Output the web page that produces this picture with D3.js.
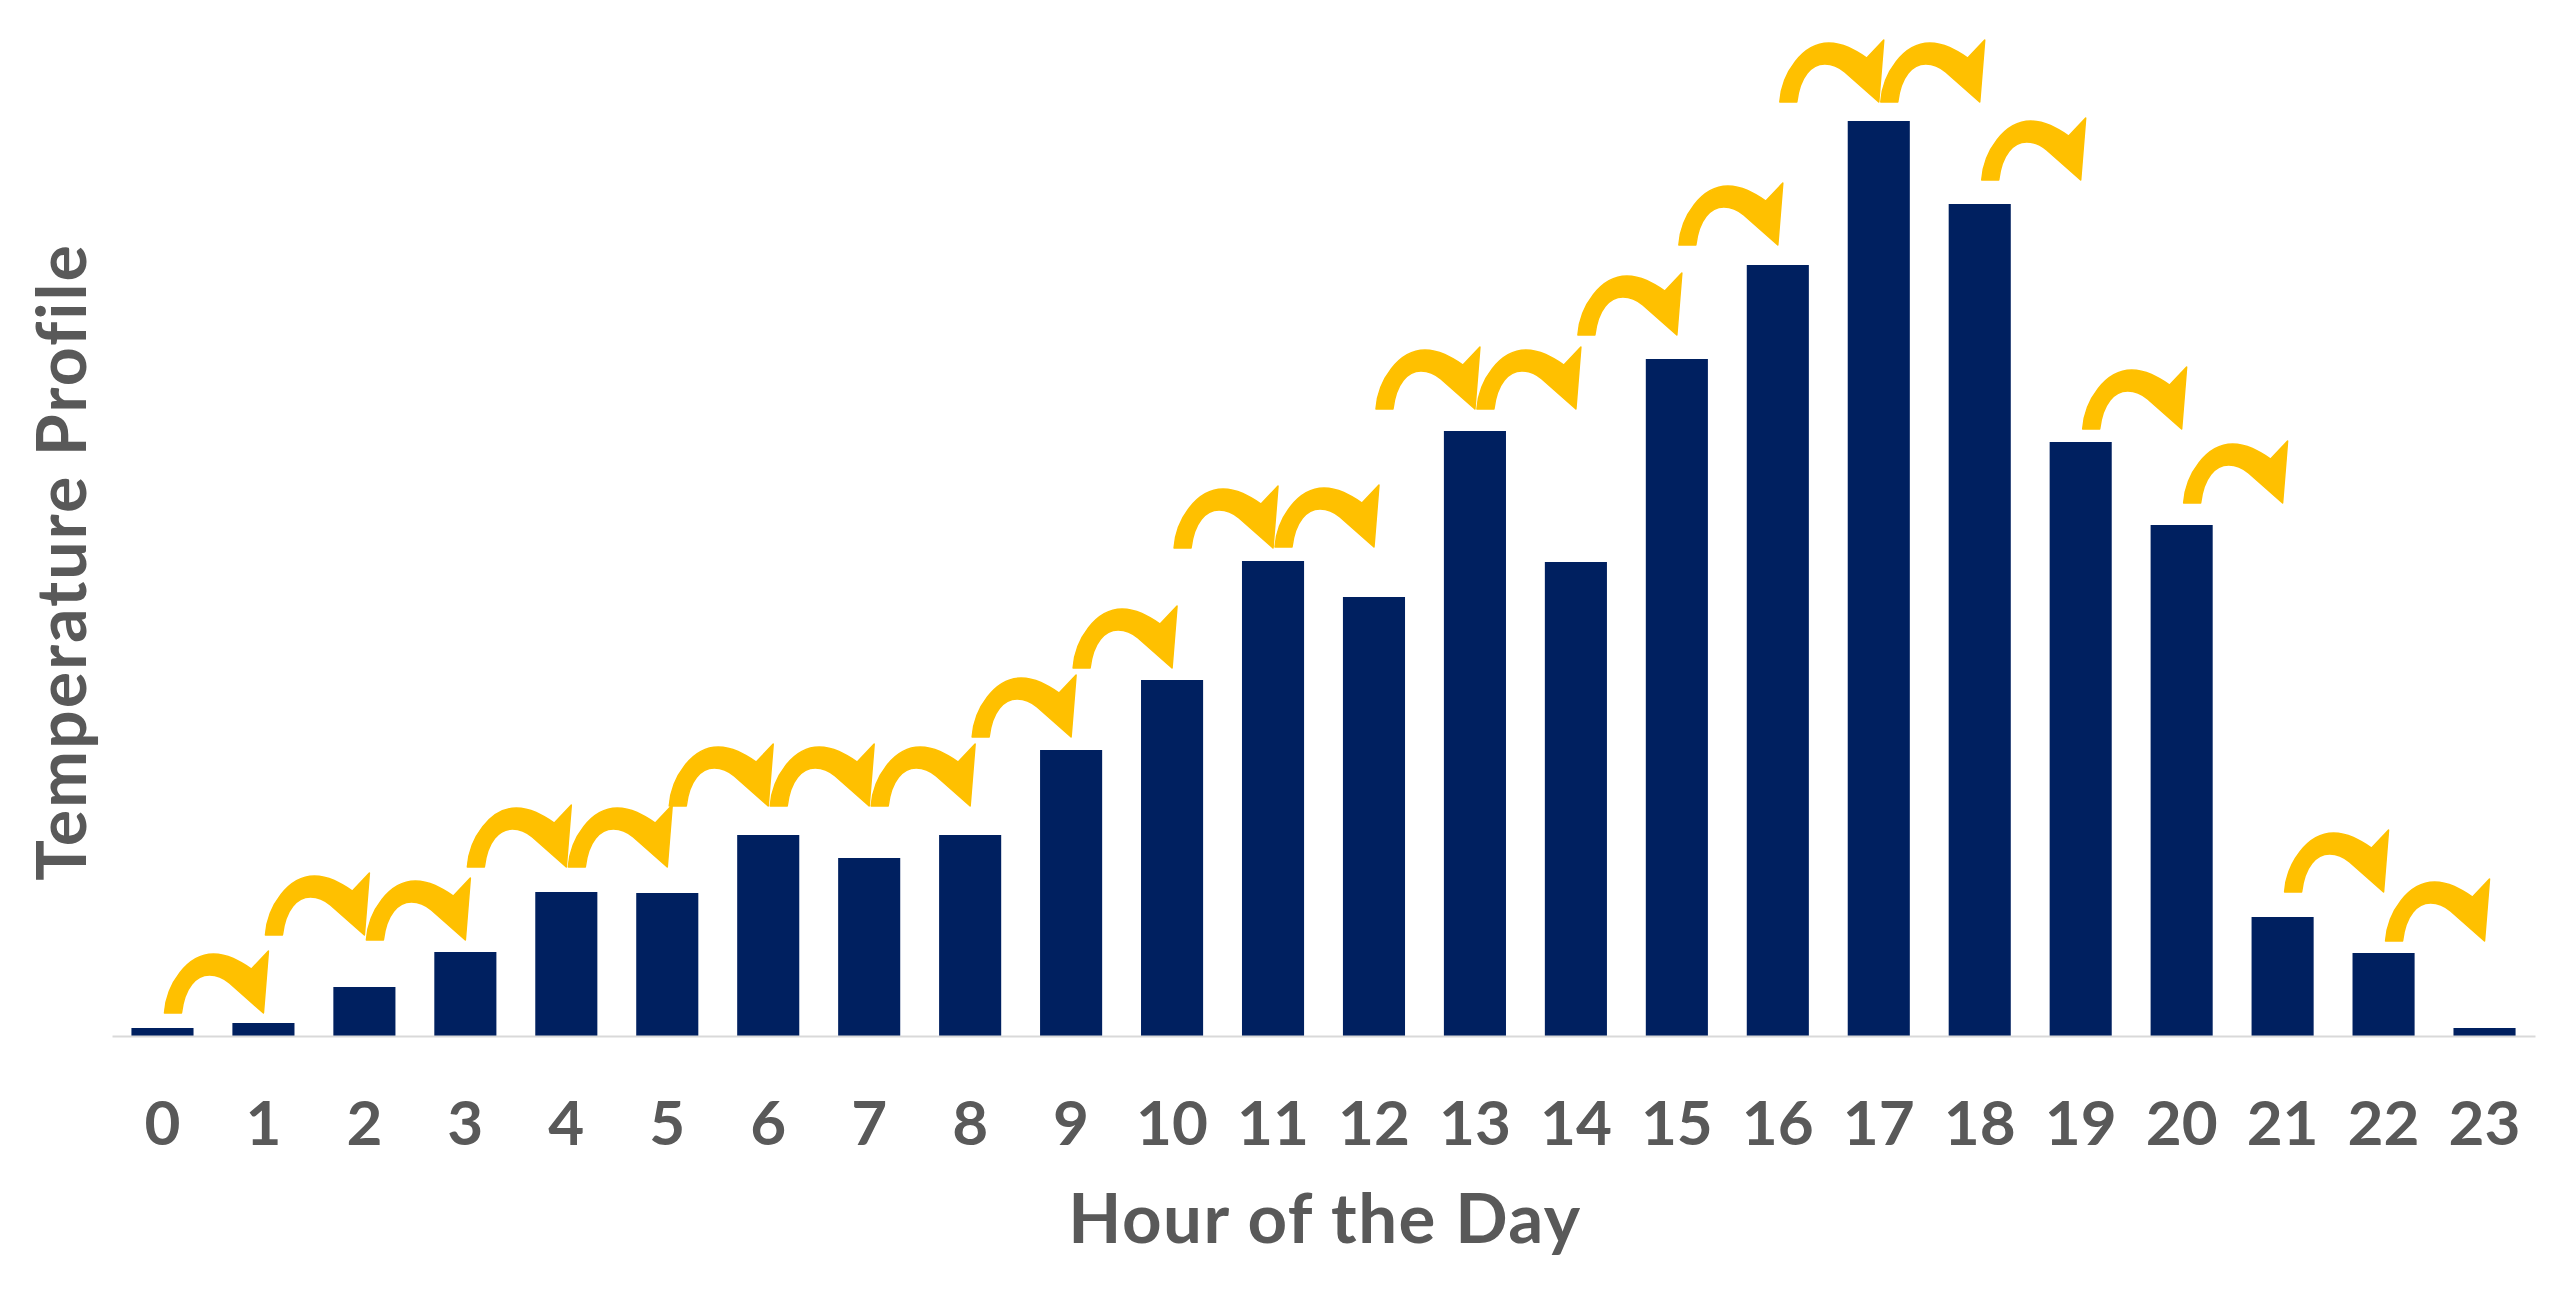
<!DOCTYPE html>
<html>
<head>
<meta charset="utf-8">
<script src="https://cdn.jsdelivr.net/npm/d3@7"></script>
<style>
  html, body { margin: 0; padding: 0; background: #ffffff; }
  svg { display: block; }
</style>
</head>
<body>
<script>
// ---- Data ----
const hours = ["0","1","2","3","4","5","6","7","8","9","10","11","12","13","14","15","16","17","18","19","20","21","22","23"];
const temperatureProfile = [0.8, 1.3, 4.9, 8.4, 14.4, 14.3, 20.1, 17.8, 20.1, 28.6, 35.6, 47.5, 43.9, 60.5, 47.4, 67.7, 77.1, 91.5, 83.2, 59.4, 51.1, 11.9, 8.3, 0.8];
// level (in the same units) at which each transition arrow k (hour k-1 -> hour k) ends
const arrowLevels = [2.3, 10.1, 9.6, 16.9, 16.9, 23.0, 23.0, 23.0, 29.9, 36.8, 48.8, 48.9, 62.7, 62.7, 70.1, 79.1, 93.4, 93.4, 85.6, 60.7, 53.3, 14.4, 9.5];
const xTitle = "Hour of the Day";
const yTitle = "Temperature Profile";

// ---- Layout ----
const W = 2565, H = 1290;
const barColor = "#002060", arrowColor = "#FFC000", textColor = "#595959", axisColor = "#D9D9D9";
const FONT = "Lato, 'Noto Sans', sans-serif";

const svg = d3.select("body").append("svg").attr("width", W).attr("height", H);

const x = d3.scaleBand().domain(hours).range([112, 2535]).paddingInner(0.385).paddingOuter(0.1925);
const y = d3.scaleLinear().domain([0, 100]).range([1036, 36]);

// bars
svg.append("g").selectAll("rect").data(temperatureProfile).join("rect")
  .attr("x", (d, i) => x(hours[i]))
  .attr("y", d => y(d))
  .attr("width", x.bandwidth())
  .attr("height", d => y(0) - y(d))
  .attr("fill", barColor);

// axis
const axis = svg.append("g").attr("transform", `translate(0,${y(0)})`)
  .call(d3.axisBottom(x).tickSize(0).tickSizeOuter(0).tickPadding(65));
axis.select(".domain").attr("stroke", axisColor).attr("stroke-width", 2);
axis.selectAll("text").attr("fill", textColor).attr("font-family", FONT)
  .attr("font-size", 62).attr("font-weight", 700);

// curved arrows: filled crescent + head, local shape ~102 x 60, anchored at its bottom
const step = x.step();
const ah = 58;
const arrowShape =
  "M -1,58 C 1,29 22,-1 48,-1 C 62,-1 74,6 86,14 L 103,-4 L 98,58 L 64,28 " +
  "C 57,22 50,20 44,20 C 31,20 19,32 16,58 Z";
svg.append("g").selectAll("path").data(arrowLevels).join("path")
  .attr("d", arrowShape)
  .attr("fill", arrowColor)
  .attr("stroke", arrowColor)
  .attr("stroke-width", 1.5)
  .attr("stroke-linejoin", "round")
  .attr("transform", (d, k) => {
    const x0 = x(hours[k]) + x.bandwidth() / 2 + 3;
    const s = step / 101;
    return `translate(${x0},${y(d) - ah}) scale(${s},1)`;
  });

// titles
svg.append("text").attr("x", 1325).attr("y", 1243).attr("text-anchor", "middle")
  .attr("font-family", FONT).attr("font-size", 69).attr("font-weight", 700)
  .attr("letter-spacing", 1.5)
  .attr("fill", textColor).text(xTitle);
svg.append("text").attr("transform", "translate(86,562) rotate(-90)").attr("text-anchor", "middle")
  .attr("font-family", FONT).attr("font-size", 68).attr("font-weight", 700)
  .attr("letter-spacing", 2)
  .attr("fill", textColor).text(yTitle);
</script>
</body>
</html>
